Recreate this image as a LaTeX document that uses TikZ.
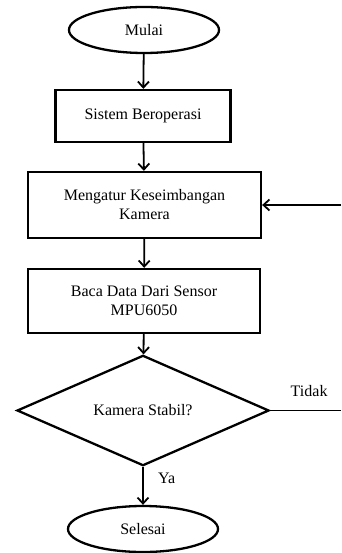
\documentclass[tikz,border=0pt]{standalone}
\usepackage{fontspec}
\setmainfont{Liberation Serif}
\usetikzlibrary{shapes.geometric,arrows.meta}
\begin{document}
\begin{tikzpicture}[x=1pt,y=-1pt,
  every node/.style={font=\fontsize{16}{19}\selectfont, text=black},
  box/.style={draw=black, line width=2.3pt, rectangle, inner sep=0pt, align=center},
  oval/.style={draw=black, line width=2.3pt, ellipse, inner sep=0pt},
  dec/.style={draw=black, line width=2.3pt, diamond, inner sep=0pt},
  conn/.style={line width=1.8pt, -{Straight Barb[length=6pt,width=11pt,line width=1.8pt]}},
  plain/.style={line width=1.8pt}]
\useasboundingbox (0,0) rectangle (341,553);
\node[oval, minimum width=150pt, minimum height=46pt] (start) at (144,30) {Mulai};
\node[box, minimum width=175pt, minimum height=52pt] (sys) at (143,116) {Sistem Beroperasi};
\node[box, minimum width=233pt, minimum height=66pt] (bal) at (144.5,205) {Mengatur Keseimbangan\\Kamera};
\node[box, minimum width=232pt, minimum height=64pt] (read) at (144,301) {Baca Data Dari Sensor\\MPU6050};
\node[dec, minimum width=252pt, minimum height=85pt] (chk) at (143,410.5) {Kamera Stabil?};
\node[oval, minimum width=150pt, minimum height=46pt] (end) at (143,529) {Selesai};
\coordinate (redge) at (341,0);
\coordinate (rtop) at (bal.east -| redge);
\coordinate (rbot) at (chk.east -| redge);
\draw[conn] (start) -- (sys);
\draw[conn] (sys) -- (bal);
\draw[conn] (bal) -- (read);
\draw[conn] (read) -- (chk);
\draw[conn] (chk) -- node[right=11pt, pos=0.3] {Ya} (end);
\draw[plain] (chk.east) -- node[above=10pt, pos=0.55] {Tidak} (rbot);
\draw[conn] (rtop) -- (bal.east);
\end{tikzpicture}
\end{document}
